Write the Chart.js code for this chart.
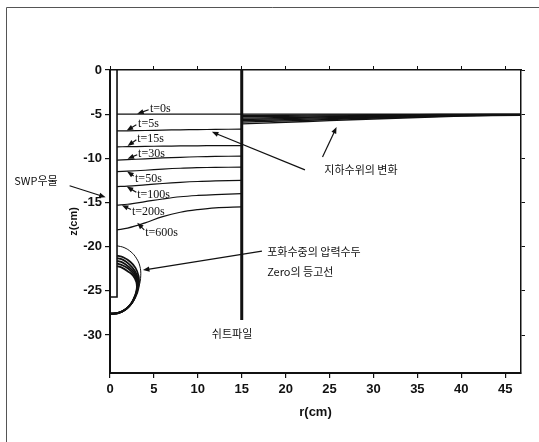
<!DOCTYPE html>
<html>
<head>
<meta charset="utf-8">
<script src="https://cdn.jsdelivr.net/npm/chart.js@4.4.0/dist/chart.umd.min.js"></script>
<style>
  html, body { margin: 0; padding: 0; background: #fff; }
</style>
</head>
<body>
<canvas id="c" width="539" height="442"></canvas>
<script>
// axis ranges / tick labels
const R_MIN = 0, R_MAX = 46.8;
const Z_MIN = -34.3, Z_MAX = 0;
const rTicks = [0, 5, 10, 15, 20, 25, 30, 35, 40, 45];
const zTicks = [0, -5, -10, -15, -20, -25, -30];

// SWP well wall and sheet pile
const wellR = [0.8, 0.8, 0];
const wellZ = [0, -25.7, -25.7];
const pileR = [15, 15];
const pileZ = [0, -28.3];

// water table between well and sheet pile
const timeLabels = ['t=0s', 't=5s', 't=15s', 't=30s', 't=50s', 't=100s', 't=200s', 't=600s'];
const rInner = [0.8, 2, 4, 6, 8, 10, 12, 15];
const zInner = [
  [-5.0, -5.0, -5.0, -5.0, -5.0, -5.0, -5.0, -5.0],
  [-6.9, -6.88, -6.85, -6.8, -6.77, -6.75, -6.72, -6.7],
  [-8.7, -8.68, -8.65, -8.62, -8.6, -8.58, -8.56, -8.55],
  [-10.2, -10.15, -10.05, -9.95, -9.88, -9.82, -9.78, -9.75],
  [-11.5, -11.45, -11.35, -11.22, -11.12, -11.06, -11.02, -11.0],
  [-13.2, -13.15, -13.0, -12.85, -12.72, -12.62, -12.56, -12.5],
  [-15.3, -15.2, -14.9, -14.6, -14.35, -14.2, -14.1, -14.0],
  [-18.1, -17.9, -17.3, -16.6, -16.1, -15.8, -15.6, -15.5],
];

// water table outside the sheet pile
const rOuter = [15, 20, 25, 30, 35, 40, 47];
const zOuter = [
  [-5.0, -5.0, -5.0, -5.0, -5.0, -5.0, -5.0],
  [-5.15, -5.12, -5.1, -5.07, -5.05, -5.03, -5.02],
  [-5.3, -5.25, -5.2, -5.15, -5.1, -5.06, -5.03],
  [-5.45, -5.38, -5.3, -5.22, -5.15, -5.09, -5.05],
  [-5.6, -5.5, -5.4, -5.3, -5.2, -5.12, -5.06],
  [-5.75, -5.63, -5.5, -5.38, -5.26, -5.15, -5.08],
  [-5.9, -5.76, -5.6, -5.45, -5.31, -5.18, -5.1],
  [-6.1, -5.92, -5.73, -5.55, -5.38, -5.22, -5.12],
];

// zero pressure head contours near the well bottom
const contourR = [
  [0.8, 1.6, 2.4, 3.0, 3.4, 3.5, 3.3, 2.8, 2.1, 1.2, 0],
  [0.8, 1.5, 2.3, 2.9, 3.25, 3.3, 3.1, 2.6, 1.9, 1.0, 0],
  [0.8, 1.5, 2.2, 2.8, 3.15, 3.2, 3.0, 2.55, 1.85, 1.0, 0],
  [0.8, 1.45, 2.15, 2.75, 3.1, 3.15, 2.95, 2.5, 1.8, 0.95, 0],
  [0.8, 1.4, 2.1, 2.7, 3.05, 3.1, 2.9, 2.45, 1.75, 0.9, 0],
  [0.8, 1.4, 2.05, 2.65, 3.0, 3.05, 2.85, 2.4, 1.7, 0.9, 0],
];
const contourZ = [
  [-19.9, -20.1, -20.6, -21.3, -22.2, -23.3, -24.5, -25.7, -26.8, -27.5, -27.7],
  [-21.0, -21.2, -21.7, -22.4, -23.3, -24.2, -25.2, -26.2, -27.0, -27.5, -27.65],
  [-21.3, -21.5, -22.0, -22.7, -23.5, -24.4, -25.3, -26.3, -27.05, -27.5, -27.6],
  [-21.6, -21.8, -22.3, -22.9, -23.7, -24.5, -25.4, -26.35, -27.1, -27.5, -27.6],
  [-21.9, -22.1, -22.5, -23.1, -23.85, -24.65, -25.5, -26.4, -27.1, -27.5, -27.55],
  [-22.2, -22.4, -22.8, -23.3, -24.0, -24.75, -25.55, -26.45, -27.15, -27.5, -27.55],
];

const pts = (rs, zs) => rs.map((r, i) => ({ x: r, y: zs[i] }));

function lineSet(data, width, tension) {
  return {
    data: data, showLine: true, fill: false,
    borderColor: '#111', borderWidth: width,
    pointRadius: 0, pointHoverRadius: 0, tension: tension,
  };
}

const datasets = [];
datasets.push(lineSet(pts(wellR, wellZ), 1.6, 0));
datasets.push(lineSet(pts(pileR, pileZ), 3, 0));
zInner.forEach(zs => datasets.push(lineSet(pts(rInner, zs), 1.2, 0.35)));
zOuter.forEach(zs => datasets.push(lineSet(pts(rOuter, zs), 1.4, 0.3)));
contourZ.forEach((zs, i) => datasets.push(lineSet(pts(contourR[i], zs), i < 1 ? 1 : 1.8, 0.4)));

// text + arrows, placed in (r, z) units
const KR = '"Noto Sans CJK KR", sans-serif';
const notes = [
  { text: 'SWP우물', r: -10.9, z: -12.6, font: '11px ' + KR, from: [-4.6, -13.1], to: [-0.5, -14.4] },
  { text: '지하수위의 변화', r: 24.4, z: -11.3, font: '11px ' + KR, from: [22.2, -11.3], to: [11.6, -7.0] },
  { text: '', from: [24.2, -9.85], to: [25.8, -6.45] },
  { text: '포화수중의 압력수두', r: 17.9, z: -20.6, font: '11px ' + KR, from: [17.3, -20.5], to: [3.75, -22.65] },
  { text: 'Zero의 등고선', r: 17.9, z: -22.9, font: '11px ' + KR },
  { text: '쉬트파일', r: 11.6, z: -29.9, font: '11px ' + KR },
];
const timeNotes = [
  { r: 4.55, z: -4.4, from: [4.4, -4.5], to: [3.1, -4.95] },
  { r: 3.2, z: -6.1, from: [3.0, -6.2], to: [1.9, -6.85] },
  { r: 3.1, z: -7.8, from: [3.0, -7.9], to: [2.0, -8.6] },
  { r: 3.2, z: -9.5, from: [3.1, -9.6], to: [2.0, -10.05] },
  { r: 2.85, z: -12.35, from: [2.7, -12.0], to: [1.95, -11.5] },
  { r: 3.1, z: -14.15, from: [3.0, -13.85], to: [1.9, -13.2] },
  { r: 2.5, z: -16.1, from: [2.4, -15.8], to: [1.35, -15.3] },
  { r: 4.0, z: -18.45, from: [3.9, -18.1], to: [3.1, -17.3] },
];
timeLabels.forEach((t, i) => {
  notes.push(Object.assign({ text: t, font: '12px "Liberation Serif", serif' }, timeNotes[i]));
});

function arrow(ctx, x1, y1, x2, y2) {
  const a = Math.atan2(y2 - y1, x2 - x1), h = 7;
  ctx.beginPath();
  ctx.moveTo(x1, y1);
  ctx.lineTo(x2 - Math.cos(a) * h * 0.7, y2 - Math.sin(a) * h * 0.7);
  ctx.stroke();
  ctx.beginPath();
  ctx.moveTo(x2, y2);
  ctx.lineTo(x2 - h * Math.cos(a - 0.38), y2 - h * Math.sin(a - 0.38));
  ctx.lineTo(x2 - h * Math.cos(a + 0.38), y2 - h * Math.sin(a + 0.38));
  ctx.closePath();
  ctx.fill();
}

const notesPlugin = {
  id: 'notes',
  beforeDraw(chart) {
    // scanned page frame
    const ctx = chart.ctx;
    ctx.save();
    ctx.strokeStyle = '#555';
    ctx.lineWidth = 1;
    ctx.beginPath();
    ctx.moveTo(6.5, 442);
    ctx.lineTo(6.5, 7.5);
    ctx.lineTo(539, 7.5);
    ctx.stroke();
    ctx.restore();
  },
  afterDraw(chart) {
    const ctx = chart.ctx, sx = chart.scales.x, sy = chart.scales.y;
    const px = r => sx.getPixelForValue(r), py = z => sy.getPixelForValue(z);
    ctx.save();
    ctx.fillStyle = '#111';
    ctx.strokeStyle = '#111';
    ctx.lineWidth = 1.2;
    ctx.textBaseline = 'middle';
    notes.forEach(n => {
      if (n.text) {
        ctx.font = n.font;
        ctx.textAlign = 'left';
        ctx.fillText(n.text, px(n.r), py(n.z));
      }
      if (n.from) arrow(ctx, px(n.from[0]), py(n.from[1]), px(n.to[0]), py(n.to[1]));
    });
    // axis titles
    ctx.font = 'bold 13px "Liberation Sans", sans-serif';
    ctx.textAlign = 'center';
    ctx.fillText('r(cm)', (chart.chartArea.left + chart.chartArea.right) / 2, 412);
    ctx.translate(74, (chart.chartArea.top + chart.chartArea.bottom) / 2);
    ctx.rotate(-Math.PI / 2);
    ctx.font = 'bold 11px "Liberation Sans", sans-serif';
    ctx.fillText('z(cm)', 0, 0);
    ctx.restore();
  }
};

const tickFont = { family: '"Liberation Sans", sans-serif', weight: 'bold', size: 13 };

new Chart(document.getElementById('c'), {
  type: 'scatter',
  data: { datasets: datasets },
  options: {
    responsive: false,
    animation: false,
    layout: { padding: { top: 70, right: 18, left: 0, bottom: 0 } },
    plugins: { legend: { display: false }, tooltip: { enabled: false } },
    scales: {
      x: {
        type: 'linear', position: 'bottom', min: R_MIN, max: R_MAX,
        afterBuildTicks: s => { s.ticks = rTicks.map(v => ({ value: v })); },
        afterFit: s => { s.height = 69; },
        grid: { drawOnChartArea: false, drawTicks: true, tickLength: 5, color: '#111', lineWidth: 1.2 },
        border: { color: '#111', width: 2 },
        ticks: { color: '#111', font: tickFont, padding: 4, maxRotation: 0 },
      },
      y: {
        type: 'linear', position: 'left', min: Z_MIN, max: Z_MAX,
        afterBuildTicks: s => { s.ticks = zTicks.map(v => ({ value: v })); },
        afterFit: s => { s.width = 110; },
        grid: { drawOnChartArea: false, drawTicks: true, tickLength: 5, color: '#111', lineWidth: 1.2 },
        border: { color: '#111', width: 2 },
        ticks: { color: '#111', font: tickFont, padding: 3 },
      },
      x2: {
        type: 'linear', position: 'top', min: R_MIN, max: R_MAX,
        afterBuildTicks: s => { s.ticks = rTicks.map(v => ({ value: v })); },
        afterFit: s => { s.height = 0; },
        grid: { drawOnChartArea: false, drawTicks: true, tickLength: 4, color: '#111', lineWidth: 1 },
        border: { color: '#111', width: 1.5 },
        ticks: { display: false },
      },
      y2: {
        type: 'linear', position: 'right', min: Z_MIN, max: Z_MAX,
        afterBuildTicks: s => { s.ticks = zTicks.map(v => ({ value: v })); },
        afterFit: s => { s.width = 0; },
        grid: { drawOnChartArea: false, drawTicks: true, tickLength: 4, color: '#111', lineWidth: 1 },
        border: { color: '#111', width: 1.5 },
        ticks: { display: false },
      },
    },
  },
  plugins: [notesPlugin],
});
</script>
</body>
</html>
